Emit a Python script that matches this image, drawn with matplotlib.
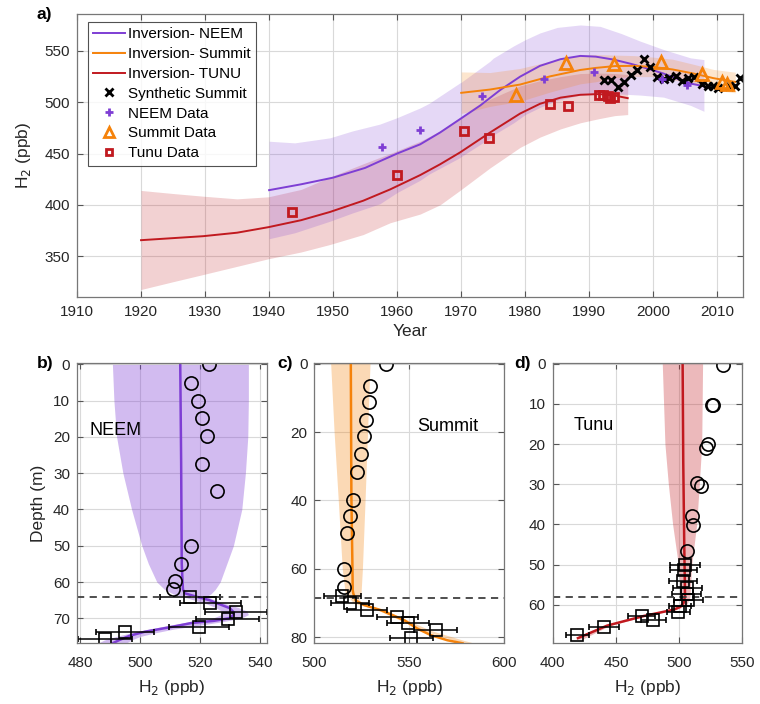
import numpy as np
import matplotlib
matplotlib.use('Agg')
import matplotlib.pyplot as plt

plt.rcParams['font.family'] = ['Liberation Sans', 'DejaVu Sans']

PURPLE = '#7E3ED4'
ORANGE = '#F5820A'
RED = '#C1191F'

# ---- a) atmospheric history -------------------------------------------------
neem_yr = [1940, 1945, 1950, 1955, 1957.3, 1960, 1963.6, 1966.7, 1969.8, 1973, 1976.1,
           1979.2, 1982.3, 1985.5, 1988.6, 1991, 1993.8, 1996.5, 1999, 2001.6, 2004.2,
           2006, 2007.9]
neem_h2 = [414.3, 420, 426.5, 436, 442.5, 450, 459, 470.5, 483.5, 497, 512,
           525, 535.5, 542, 545.2, 544.5, 541.6, 537.5, 533, 528, 521.9,
           518, 515.6]
neem_band_yr = [1940, 1944, 1949.5, 1953, 1957.3, 1960, 1963.6, 1965, 1969.8, 1970, 1974.5,
                1975, 1978.2, 1980, 1982.3, 1985, 1988.6, 1991.7, 1995, 1998, 2001.6,
                2005.8, 2007.9]
neem_hi = [462, 460.4, 465.3, 472, 478.7, 485, 494.5, 499, 518.9, 519.5, 540,
           543, 555, 561, 567.6, 573, 575.4, 574, 567, 559.5, 551.4,
           543.3, 541.6]
neem_lo = [366.9, 372.7, 384, 392, 401, 412, 424, 430, 446, 447, 465,
           468, 480, 488, 495, 502, 507, 508, 508, 507, 505,
           497, 491.2]

summit_yr = [1970, 1974.5, 1979.2, 1983.9, 1988.6, 1991, 1994, 1997, 2000, 2003,
             2006.3, 2009.4, 2012.8]
summit_h2 = [509.2, 512.4, 517.3, 525.3, 531.5, 533.5, 535.3, 535.5, 534.5, 532,
             528, 523.5, 519.8]
summit_hi = [529.6, 529, 533, 540, 546, 546.5, 546, 545.5, 544, 542,
             537, 532, 529.3]
summit_lo = [489, 496, 501, 510, 518, 520, 524, 525, 525, 522,
             518, 512, 509.2]

tunu_yr = [1920, 1925, 1929.7, 1935, 1939.9, 1945, 1949.5, 1954.7, 1958.9, 1963.6,
           1966.7, 1969.8, 1974.5, 1979.2, 1982.3, 1985.5, 1988.6, 1991.5, 1994, 1996]
tunu_h2 = [365.5, 367.5, 369.4, 372.8, 378.2, 385, 393, 404, 415, 429,
           439.5, 451, 470.5, 489, 498.5, 504.5, 507.3, 508, 506.5, 504]
tunu_hi = [414, 411, 408.4, 405.8, 407.8, 415, 427, 440, 450, 462,
           472, 485, 503, 516, 521, 525, 528, 528.5, 528, 527]
tunu_lo = [317.4, 325, 332, 340, 347.4, 354, 361.3, 371, 382.5, 391,
           400, 414, 436, 456, 466, 474, 480, 484, 487, 488]

synth_yr = [1992.3, 1993.4, 1994.5, 1995.4, 1996.5, 1997.4, 1998.5, 1999.5, 2000.5, 2001.6,
            2002.4, 2003.5, 2004.5, 2005.4, 2006.4, 2007.6, 2008.5, 2009.3, 2010.1, 2011.8,
            2012.7, 2013.6]
synth_h2 = [522.0, 522.0, 514.6, 519.5, 527.0, 531.2, 541.9, 534.1, 524.4, 522.8,
            523.4, 526.0, 520.5, 523.8, 524.8, 518.0, 515.6, 515.6, 514.0, 516.0,
            516.0, 524.0]
neem_data_yr = [1957.6, 1963.6, 1973.3, 1983.0, 1990.8, 2001.3, 2005.2]
neem_data_h2 = [456.5, 472.7, 506.5, 523.1, 529.2, 522.8, 516.6]
summit_data_yr = [1978.6, 1986.3, 1993.8, 2001.2, 2007.6, 2010.7, 2011.5]
summit_data_h2 = [507.1, 538.4, 537.4, 539.4, 527.7, 519.9, 517.9]
tunu_data_yr = [1943.5, 1960.0, 1970.5, 1974.3, 1983.9, 1986.6, 1991.5, 1992.2, 1992.9,
                1993.3, 1993.9]
tunu_data_h2 = [393.2, 429.2, 472.4, 464.9, 498.4, 496.1, 507.5, 507.3, 506.5,
                503.8, 505.0]

# ---- b) NEEM firn ------------------------------------------------------------
b_circ_d = [0, 5.0, 10.1, 14.9, 19.8, 27.5, 34.8, 50.1, 55.1, 59.8, 62.0]
b_circ_v = [523.0, 516.8, 519.2, 520.5, 522.3, 520.7, 525.5, 517.0, 513.5, 511.7, 511.0]
b_sq_d = [64.0, 65.7, 68.2, 70.2, 72.3, 73.9, 75.8]
b_sq_v = [516.5, 523.3, 531.8, 529.1, 519.5, 495.0, 488.2]
b_sq_e = [9.9, 10.1, 10.3, 10.6, 10.1, 9.6, 9.0]
b_line_d = [0, 27, 55, 62, 63.1, 64, 65, 66, 67.2, 68.4, 69.2, 70, 70.7, 71.3, 72.3,
            73.7, 74.8, 76, 77]
b_line_v = [513.3, 513.6, 513.8, 514.2, 514.8, 518.5, 523.0, 526.0, 529.8, 531.2, 530.9,
            529.5, 524.5, 517, 511, 501.5, 496.5, 493, 490.5]
b_band_d = [0, 10, 20, 30, 40, 50, 55, 60, 62, 63.3, 64, 65, 66, 67, 68, 69, 70, 71,
            72, 73, 74, 75, 76, 77]
b_band_lo = [490.7, 491.2, 492.1, 494.2, 497.1, 500.5, 502.7, 505.5, 508, 511, 514, 518,
             522, 525, 527, 527, 524, 516, 509, 503, 497, 492, 488, 485.5]
b_band_hi = [536, 536, 535.8, 535, 533.8, 531, 528.8, 526.6, 525, 523.5, 522, 525,
             528.5, 532.5, 535.5, 536, 533.5, 527, 519, 511, 505, 500, 497, 495]

# ---- c) Summit firn ----------------------------------------------------------
c_circ_d = [0.1, 6.4, 11.3, 16.4, 21.1, 26.3, 31.8, 39.9, 44.7, 49.4, 60.2, 65.3]
c_circ_v = [537.7, 529.3, 529.0, 527.2, 526.2, 524.4, 522.6, 520.5, 518.8, 517.4, 515.8, 515.4]
c_sq_d = [68.0, 69.9, 72.1, 74.1, 76.0, 78.0, 80.2]
c_sq_v = [514.7, 518.8, 527.9, 543.7, 549.5, 563.9, 551.1]
c_sq_e = [9.8, 10.0, 10.5, 10.9, 11.0, 11.4, 11.1]
c_line_d = [0, 38.9, 57.4, 66.2, 67.2, 69.3, 70.6, 72.1, 75.0, 77.5, 79.4, 80.9, 81.8]
c_line_v = [519.2, 519.5, 520.0, 520.2, 520.5, 521.8, 526.2, 535.0, 547.2, 554.2, 561.3,
            570.0, 578.0]
c_band_d = [0, 20, 40, 60, 67, 68.5, 70, 72, 75, 78, 81, 82]
c_band_lo = [508.6, 510.4, 512.6, 514.7, 516.2, 518.5, 520.5, 533, 545, 557, 574, 582]
c_band_hi = [529.3, 528, 526.7, 525.3, 524.6, 523.5, 523.5, 537, 549, 561, 579, 586]

# ---- d) Tunu firn ------------------------------------------------------------
d_circ_d = [0.2, 10.2, 10.3, 20.0, 21.0, 29.8, 30.4, 37.9, 40.2, 46.7]
d_circ_v = [535.0, 526.4, 527.0, 523.1, 521.3, 513.9, 517.1, 510.0, 511.2, 506.0]
d_sq_d = [50.0, 51.3, 54.2, 55.8, 57.2, 58.8, 60.4, 61.7, 62.8, 63.7, 65.5, 67.6]
d_sq_v = [504.7, 503.5, 503.0, 506.5, 506.0, 507.3, 500.7, 499.4, 470.4, 479.6, 440.8, 419.5]
d_sq_e = [11.5, 11.0, 11.0, 11.5, 11.5, 11.5, 9.0, 9.0, 10.5, 10.0, 12.0, 9.0]
d_line_d = [0, 24.6, 45.4, 57.9, 59.6, 60.5, 61.2, 62.8, 65.2, 68.3]
d_line_v = [502.8, 503.3, 504.1, 504.7, 503.5, 501, 496, 472, 443, 420]
d_band_d = [0, 20, 30, 40, 50, 58, 60, 61.2, 62.8, 65.2, 68.5]
d_band_lo = [486.7, 488.8, 491.5, 494.9, 499.4, 501.3, 502, 494, 470, 441, 418]
d_band_hi = [518.6, 517.9, 516.0, 513.9, 510.0, 508.6, 506, 498, 474, 445, 424]


def style(ax, xpad=6):
    ax.grid(True, color='#d9d9d9', lw=0.8)
    ax.set_axisbelow(True)
    ax.tick_params(direction='in', top=True, right=True, length=4, width=0.8,
                   color='#555555', labelsize=11, labelcolor='#262626', pad=5)
    ax.tick_params(axis='x', pad=xpad)
    for s in ax.spines.values():
        s.set_color('#777777')
        s.set_linewidth(0.9)


fig = plt.figure(figsize=(7.6, 7.04), dpi=100)

# ---------------- panel a ----------------
ax = fig.add_axes([0.1013, 0.578, 0.8763, 0.402])
style(ax, xpad=6)
ax.fill_between(tunu_yr, tunu_lo, tunu_hi, color=RED, alpha=0.2, lw=0)
ax.fill_between(neem_band_yr, neem_lo, neem_hi, color=PURPLE, alpha=0.2, lw=0)
ax.fill_between(summit_yr, summit_lo, summit_hi, color=ORANGE, alpha=0.2, lw=0)
ax.plot(neem_yr, neem_h2, color=PURPLE, lw=1.4, label='Inversion- NEEM')
ax.plot(summit_yr, summit_h2, color=ORANGE, lw=1.4, label='Inversion- Summit')
ax.plot(tunu_yr, tunu_h2, color=RED, lw=1.4, label='Inversion- TUNU')
ax.plot(synth_yr, synth_h2, 'x', color='k', ms=6, mew=2, label='Synthetic Summit')
ax.plot(neem_data_yr, neem_data_h2, '+', color=PURPLE, ms=6, mew=2, label='NEEM Data')
ax.plot(summit_data_yr, summit_data_h2, '^', mfc='none', mec=ORANGE, ms=8, mew=2,
        label='Summit Data')
ax.plot(tunu_data_yr, tunu_data_h2, 's', mfc='none', mec=RED, ms=5.5, mew=2,
        label='Tunu Data')
ax.set_xlim(1910, 2014)
ax.set_ylim(310, 586)
ax.set_xticks(np.arange(1910, 2011, 10))
ax.set_yticks([350, 400, 450, 500, 550])
ax.set_xlabel('Year', fontsize=12.5, color='#262626', labelpad=3)
ax.set_ylabel('H$_2$ (ppb)', fontsize=12.5, color='#262626', labelpad=8)
leg = ax.legend(loc='upper left', bbox_to_anchor=(0.0165, 0.972), fontsize=11,
                frameon=True, fancybox=False, edgecolor='#262626', handlelength=2.1,
                handletextpad=0.15, borderpad=0.35, labelspacing=0.38, borderaxespad=0,
                markerscale=0.85)
leg.get_frame().set_linewidth(0.8)
fig.text(0.048, 0.979, 'a)', fontsize=12.5, fontweight='bold', va='center')

# ---------------- bottom panels ----------------
def firn_panel(pos, color, band_alpha, bd, blo, bhi, ld, lv, cd, cv, sd, sv, se, dash,
               xlim, ylim, xticks, yticks, name, name_xy, letter, letter_x):
    a = fig.add_axes(pos)
    style(a, xpad=9)
    a.fill_betweenx(bd, blo, bhi, color=color, alpha=band_alpha, lw=0)
    a.plot(lv, ld, color=color, lw=1.8)
    a.errorbar(sv, sd, xerr=se, fmt='s', mfc='none', mec='k', ms=8, mew=1.2,
               ecolor='k', elinewidth=1.1, capsize=2.5, capthick=1.1)
    a.plot(cv, cd, 'o', mfc='none', mec='k', ms=9.5, mew=1.2)
    a.axhline(dash, color='#404040', ls='--', lw=1.3, dashes=(4, 3))
    a.set_xlim(*xlim)
    a.set_ylim(*ylim)
    a.set_xticks(xticks)
    a.set_yticks(yticks)
    a.set_xlabel('H$_2$ (ppb)', fontsize=12.5, color='#262626', labelpad=6)
    a.text(name_xy[0], name_xy[1], name, fontsize=13, va='center', ha='left')
    fig.text(letter_x, 0.484, letter, fontsize=12.5, fontweight='bold', va='center')
    return a


axb = firn_panel([0.1013, 0.0862, 0.25, 0.3977], PURPLE, 0.35, b_band_d, b_band_lo,
                 b_band_hi, b_line_d, b_line_v, b_circ_d, b_circ_v, b_sq_d, b_sq_v,
                 b_sq_e, 64.0, (478.9, 542.2), (76.9, -0.3), [480, 500, 520, 540],
                 np.arange(0, 71, 10), 'NEEM', (483.2, 18.1), 'b)', 0.048)
axb.set_ylabel('Depth (m)', fontsize=12.5, color='#262626', labelpad=5)

firn_panel([0.4136, 0.0862, 0.25, 0.3977], ORANGE, 0.3, c_band_d, c_band_lo, c_band_hi,
           c_line_d, c_line_v, c_circ_d, c_circ_v, c_sq_d, c_sq_v, c_sq_e, 68.4,
           (500, 600), (81.8, -0.1), [500, 550, 600], np.arange(0, 81, 20),
           'Summit', (554.3, 18.5), 'c)', 0.365)

firn_panel([0.7272, 0.0862, 0.2495, 0.3977], RED, 0.3, d_band_d, d_band_lo, d_band_hi,
           d_line_d, d_line_v, d_circ_d, d_circ_v, d_sq_d, d_sq_v, d_sq_e, 58.0,
           (400, 550), (69.6, -0.1), [400, 450, 500, 550], np.arange(0, 61, 10),
           'Tunu', (416.3, 15.4), 'd)', 0.676)

fig.savefig('out.png', dpi=100)
